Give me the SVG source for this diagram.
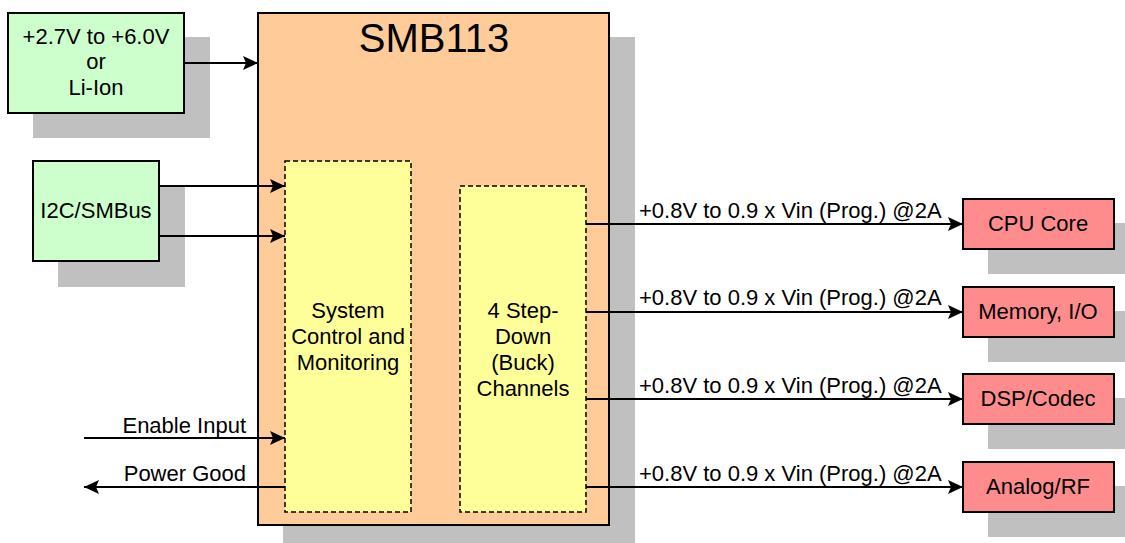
<svg xmlns="http://www.w3.org/2000/svg" width="1125" height="543" viewBox="0 0 1125 543">
<style>
.sh{fill:#C0C0C0;stroke:none}
.g{fill:#CCFFCC;stroke:#000;stroke-width:2}
.o{fill:#FFCC99;stroke:#000;stroke-width:2}
.y{fill:#FFFF99;stroke:#000;stroke-width:1.5;stroke-dasharray:5,3}
.r{fill:#FF8C8C;stroke:#000;stroke-width:2}
text{font-family:"Liberation Sans",Arial,sans-serif;font-size:22px;fill:#000}
.c{text-anchor:middle}
.e{text-anchor:end}
.w{stroke:#000;stroke-width:2;fill:none;marker-end:url(#ah)}
</style>
<defs>
<marker id="ah" viewBox="0 0 15 14" refX="15" refY="7" markerWidth="15" markerHeight="14" markerUnits="userSpaceOnUse" orient="auto">
<path d="M0,0 L15,7 L0,14 L3,7 Z" fill="#000"/>
</marker>
</defs>
<rect width="1125" height="543" fill="#fff"/>
<g id="power">
<rect class="sh" x="33" y="37" width="177" height="101"/>
<rect class="g" x="8" y="13" width="176" height="100"/>
<text class="c" x="96" y="44">+2.7V to +6.0V</text>
<text class="c" x="96" y="69">or</text>
<text class="c" x="96" y="95">Li-Ion</text>
</g>
<g id="i2c">
<rect class="sh" x="58" y="187" width="127" height="100"/>
<rect class="g" x="33" y="161" width="126" height="100"/>
<text class="c" x="96" y="218">I2C/SMBus</text>
</g>
<g id="smb113">
<rect class="sh" x="283" y="37" width="352" height="506"/>
<rect class="o" x="258" y="13" width="351" height="512"/>
<text class="c" x="434" y="52" style="font-size:40px">SMB113</text>
</g>
<g id="sysctl">
<rect class="y" x="285" y="161" width="126" height="351"/>
<text class="c" x="348" y="318">System</text>
<text class="c" x="348" y="344">Control and</text>
<text class="c" x="348" y="370">Monitoring</text>
</g>
<g id="buck">
<rect class="y" x="460" y="186" width="126" height="326"/>
<text class="c" x="523" y="318">4 Step-</text>
<text class="c" x="523" y="344">Down</text>
<text class="c" x="523" y="370">(Buck)</text>
<text class="c" x="523" y="396">Channels</text>
</g>
<g id="cpu">
<rect class="sh" x="988" y="223" width="137" height="51"/>
<rect class="r" x="963" y="199" width="151" height="50"/>
<text class="c" x="1038" y="231">CPU Core</text>
</g>
<g id="mem">
<rect class="sh" x="988" y="311" width="137" height="51"/>
<rect class="r" x="963" y="287" width="151" height="50"/>
<text class="c" x="1038" y="319">Memory, I/O</text>
</g>
<g id="dsp">
<rect class="sh" x="988" y="398" width="137" height="51"/>
<rect class="r" x="963" y="374" width="151" height="50"/>
<text class="c" x="1038" y="406">DSP/Codec</text>
</g>
<g id="analog">
<rect class="sh" x="988" y="486" width="137" height="51"/>
<rect class="r" x="963" y="462" width="151" height="50"/>
<text class="c" x="1038" y="494">Analog/RF</text>
</g>
<g id="connectors">
<path class="w" d="M184,63 L258,63"/>
<path class="w" d="M159,186 L285,186"/>
<path class="w" d="M159,236 L285,236"/>
<path class="w" d="M84,438 L285,438"/>
<path class="w" d="M285,487 L84,487"/>
<path class="w" d="M586,224 L963,224"/>
<path class="w" d="M586,312 L963,312"/>
<path class="w" d="M586,399 L963,399"/>
<path class="w" d="M586,487 L963,487"/>
<text class="e" x="246" y="433">Enable Input</text>
<text class="e" x="246" y="481">Power Good</text>
<text x="639" y="218">+0.8V to 0.9 x Vin (Prog.) @2A</text>
<text x="639" y="305">+0.8V to 0.9 x Vin (Prog.) @2A</text>
<text x="639" y="393">+0.8V to 0.9 x Vin (Prog.) @2A</text>
<text x="639" y="481">+0.8V to 0.9 x Vin (Prog.) @2A</text>
</g>
</svg>
